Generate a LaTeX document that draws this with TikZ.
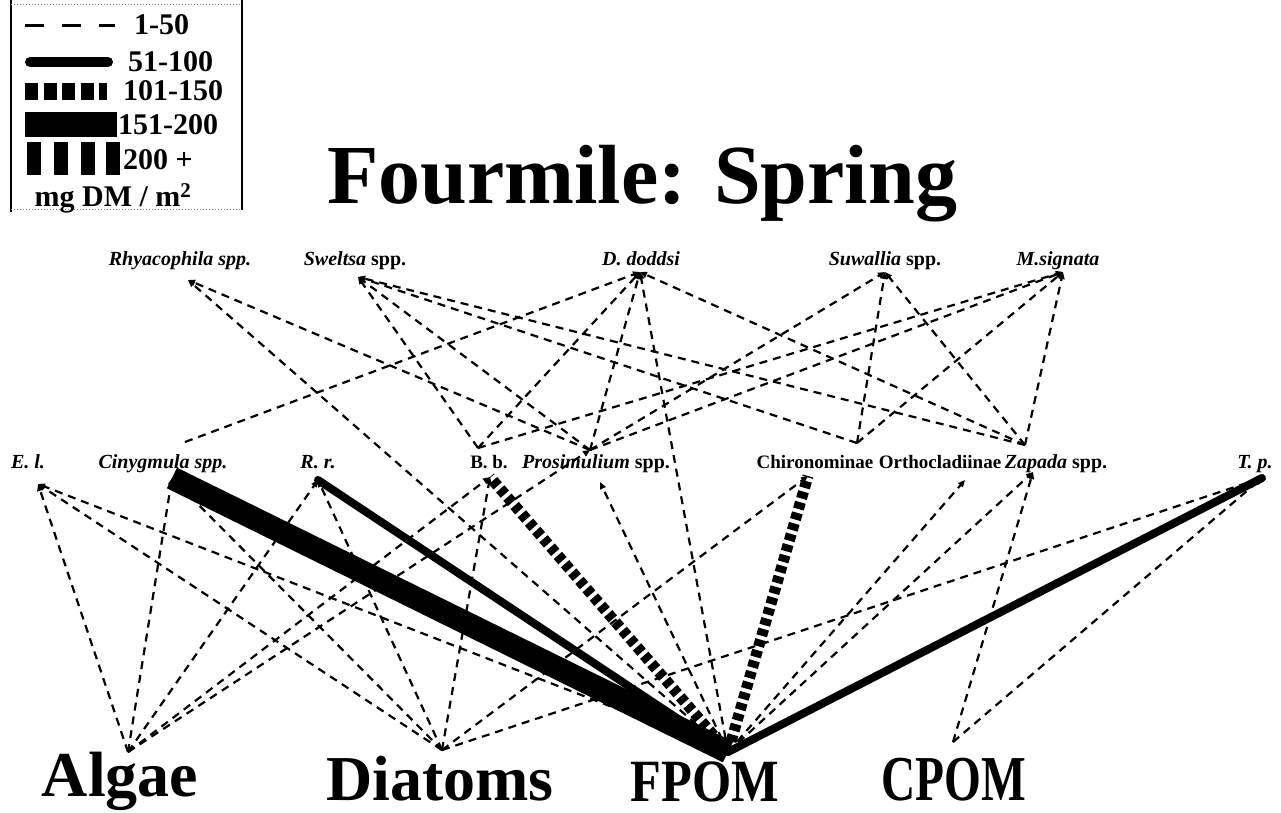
\documentclass[tikz,border=0pt]{standalone}
\usepackage{fontspec}
\setmainfont{Liberation Serif}
\usetikzlibrary{arrows.meta}
\begin{document}
\begin{tikzpicture}[x=1pt,y=-1pt,
  taxon/.style={font=\fontsize{20}{20}\selectfont\bfseries, inner sep=0pt, anchor=base},
  group/.style={font=\fontsize{19}{19}\selectfont\bfseries, inner sep=0pt, anchor=base},
  basal/.style={font=\fontsize{64}{64}\selectfont\bfseries, inner sep=0pt, anchor=base},
  legtext/.style={font=\fontsize{30}{30}\selectfont\bfseries, inner sep=0pt, anchor=west},
  feed/.style={line width=2.2pt, dash pattern=on 8pt off 6pt,
    -{Triangle[length=7pt,width=6pt]}},
  hatchline/.style={line width=11pt, dash pattern=on 7pt off 4pt},
  barline/.style={line width=8pt, line cap=round},
  fatline/.style={line width=23pt},
]
\useasboundingbox (0,0) rectangle (1281,812);

% ---------- legend ----------
\draw[line width=1.5pt] (11,0) -- (11,212);
\draw[line width=1.5pt] (242,0) -- (242,210);
\draw[gray, line width=1pt, dotted] (11,4) -- (242,4);
\draw[gray, line width=1pt, dotted] (11,209) -- (242,209);
\draw[line width=3pt, dash pattern=on 19pt off 18pt] (25,25) -- (115,25);
\draw[line width=10pt, line cap=round] (30,62) -- (108,62);
\draw[line width=17pt, dash pattern=on 13pt off 5.5pt] (25,91) -- (107,91);
\fill (25,112) rectangle (117,137);
\foreach \x in {27,54,81,106} \fill (\x,142) rectangle ++(14,33);
\node[legtext] (l1) at (134,25) {1-50};
\node[legtext] (l2) at (128,62) {51-100};
\node[legtext] (l3) at (123,91) {101-150};
\node[legtext] (l4) at (118,125) {151-200};
\node[legtext] (l5) at (123,160) {200 +};
\node[legtext, anchor=center] (l6) at (113,198) {mg DM / m\textsuperscript{2}};

% ---------- title ----------
\node[font=\fontsize{84}{84}\selectfont\bfseries, inner sep=0pt, anchor=base] (title) at (642,203) {Fourmile: Spring};

% ---------- predators ----------
\node[taxon] (rhyL) at (180,265) {\itshape Rhyacophila spp.};
\node[taxon] (swL)  at (355,265) {\itshape Sweltsa\upshape\ spp.};
\node[taxon] (ddL)  at (641,265) {\itshape D. doddsi};
\node[taxon] (suL)  at (885,265) {\itshape Suwallia\upshape\ spp.};
\node[taxon] (msL)  at (1058,265) {\itshape M.signata};
\coordinate (rh) at (188,280);
\coordinate (sw) at (358,277);
\coordinate (dd) at (640,272);
\coordinate (su) at (885,272);
\coordinate (ms) at (1063,272);

% ---------- primary consumers ----------
\node[taxon] (elL)  at (28,468)  {\itshape E. l.};
\node[taxon] (cinL) at (163,468) {\itshape Cinygmula spp.};
\node[taxon] (rrL)  at (318,468) {\itshape R. r.};
\node[group] (bbL)  at (489,468) {B. b.};
\node[taxon] (proL) at (596,468) {\itshape Prosimulium\upshape\ spp.};
\node[group] (chiL) at (815,468) {Chironominae};
\node[group] (ortL) at (940,468) {Orthocladiinae};
\node[taxon] (zapL) at (1056,468) {\itshape Zapada\upshape\ spp.};
\node[taxon] (tpL)  at (1255,468) {\itshape T. p.};

% upper ends (prey side of predator links)
\coordinate (cinU) at (185,442);
\coordinate (bbU)  at (478,448);
\coordinate (proU) at (590,450);
\coordinate (chiU) at (857,443);
\coordinate (zapU) at (1025,445);
% lower ends (consumer side of basal links)
\coordinate (elD)  at (38,484);
\coordinate (cinD) at (172,478);
\coordinate (rrD)  at (318,480);
\coordinate (bbD)  at (490,477);
\coordinate (proD) at (600,482);
\coordinate (chiD) at (808,476);
\coordinate (ortD) at (965,480);
\coordinate (zapD) at (1033,472);
\coordinate (tpD)  at (1262,478);

% ---------- basal resources ----------
\node[basal] (algL) at (120,796) {Algae};
\node[basal] (diaL) at (440,800) {Diatoms};
\node[basal, font=\fontsize{60}{60}\selectfont\bfseries, xscale=0.84] (fpomL) at (705,801) {FPOM};
\node[basal, xscale=0.74] (cpomL) at (954,800) {CPOM};
\coordinate (alg)  at (128,752);
\coordinate (dia)  at (442,750);
\coordinate (fpom) at (728,752);
\coordinate (cpom) at (953,742);

% ---------- heavy links ----------
\draw[fatline] (fpom) -- (cinD);
\draw[barline] (fpom) -- (rrD);
\draw[hatchline] (fpom) -- (bbD);
\draw[hatchline] (fpom) -- (chiD);
\draw[barline] (fpom) -- (tpD);

% ---------- basal links ----------
\draw[feed] (alg) -- (elD);
\draw[feed] (dia) -- (elD);
\draw[feed] (fpom) -- (elD);
\draw[feed] (alg) -- (cinD);
\draw[feed] (dia) -- (cinD);
\draw[feed] (alg) -- (rrD);
\draw[feed] (dia) -- (rrD);
\draw[feed] (alg) -- (bbD);
\draw[feed] (dia) -- (bbD);
\draw[feed] (fpom) -- (proD);
\draw[feed] (alg) -- (proU);
\draw[feed] (dia) -- (chiD);
\draw[feed] (fpom) -- (ortD);
\draw[feed] (fpom) -- (zapD);
\draw[feed] (cpom) -- (zapD);
\draw[feed] (cpom) -- (tpD);
\draw[feed] (dia) -- (tpD);

% ---------- predator links ----------
\draw[feed] (proU) -- (rh);
\draw[feed] (fpom) -- (rh);
\draw[feed] (bbU) -- (sw);
\draw[feed] (proU) -- (sw);
\draw[feed] (chiU) -- (sw);
\draw[feed] (zapU) -- (sw);
\draw[feed] (cinU) -- (dd);
\draw[feed] (bbU) -- (dd);
\draw[feed] (proU) -- (dd);
\draw[feed] (zapU) -- (dd);
\draw[feed] (fpom) -- (dd);
\draw[feed] (proU) -- (su);
\draw[feed] (chiU) -- (su);
\draw[feed] (zapU) -- (su);
\draw[feed] (bbU) -- (ms);
\draw[feed] (proU) -- (ms);
\draw[feed] (chiU) -- (ms);
\draw[feed] (zapU) -- (ms);
\end{tikzpicture}
\end{document}
